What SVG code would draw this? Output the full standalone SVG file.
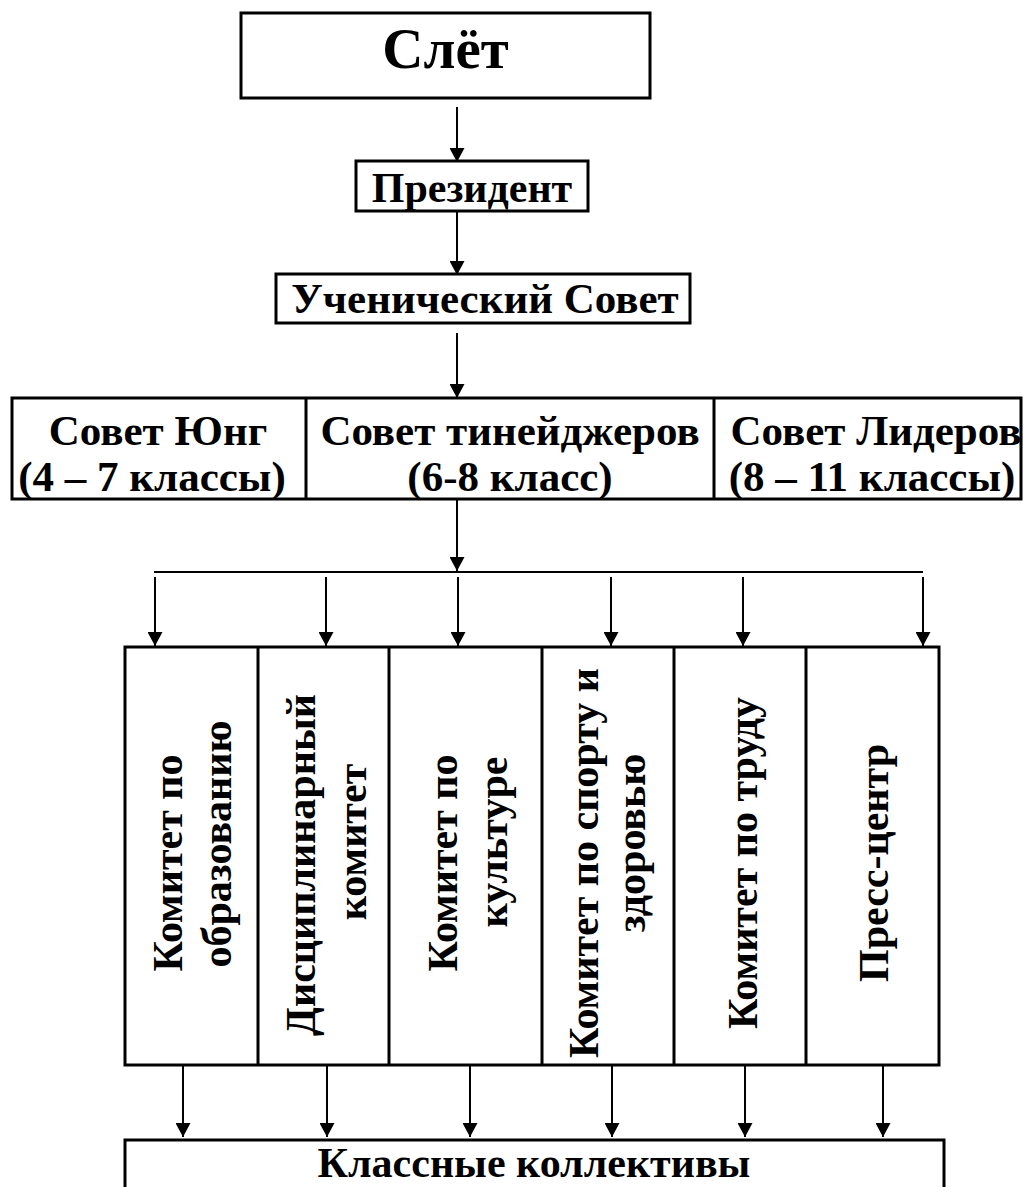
<svg xmlns="http://www.w3.org/2000/svg" width="1024" height="1187" viewBox="0 0 1024 1187">
<style>
.box{fill:#fff;stroke:#000;stroke-width:3}
.div{stroke:#000;stroke-width:3}
.t{font-family:"Liberation Serif","Times New Roman",serif;font-weight:bold;fill:#000;text-anchor:middle}
.c{stroke:#000;stroke-width:2;fill:none}
.a{stroke:#000;stroke-width:2;fill:none;marker-end:url(#ah)}
</style>
<defs>
<marker id="ah" viewBox="0 0 14 15" refX="14" refY="7.5" markerWidth="14" markerHeight="15" markerUnits="userSpaceOnUse" orient="auto">
<path d="M0,0 L14,7.5 L0,15 z" fill="#000"/>
</marker>
</defs>
<rect width="1024" height="1187" fill="#fff"/>
<g id="connectors">
<line class="a" x1="457" y1="107" x2="457" y2="162"/>
<line class="a" x1="457" y1="211" x2="457" y2="275"/>
<line class="a" x1="457" y1="333" x2="457" y2="398"/>
<line class="a" x1="457" y1="499" x2="457" y2="571"/>
<line class="c" x1="154" y1="572" x2="923" y2="572"/>
<line class="a" x1="155" y1="577" x2="155" y2="646"/>
<line class="a" x1="326" y1="577" x2="326" y2="646"/>
<line class="a" x1="458" y1="577" x2="458" y2="646"/>
<line class="a" x1="611" y1="577" x2="611" y2="646"/>
<line class="a" x1="743" y1="577" x2="743" y2="646"/>
<line class="a" x1="923" y1="577" x2="923" y2="646"/>
<line class="a" x1="183" y1="1066" x2="183" y2="1137"/>
<line class="a" x1="327" y1="1066" x2="327" y2="1137"/>
<line class="a" x1="470" y1="1066" x2="470" y2="1137"/>
<line class="a" x1="612" y1="1066" x2="612" y2="1137"/>
<line class="a" x1="745" y1="1066" x2="745" y2="1137"/>
<line class="a" x1="883" y1="1066" x2="883" y2="1137"/>
</g>
<g id="slet">
<rect class="box" x="241" y="13" width="409" height="85"/>
<text class="t" x="445.5" y="68" font-size="57">Слёт</text>
</g>
<g id="president">
<rect class="box" x="356" y="161" width="232" height="50"/>
<text class="t" x="472" y="202" font-size="42">Президент</text>
</g>
<g id="uchsovet">
<rect class="box" x="276" y="274" width="414" height="49"/>
<text class="t" x="485" y="313" font-size="43">Ученический Совет</text>
</g>
<g id="councils">
<rect class="box" x="12" y="398" width="1009" height="101"/>
<line class="div" x1="306" y1="398" x2="306" y2="499"/>
<line class="div" x1="714" y1="398" x2="714" y2="499"/>
<g id="sovet-yung">
<text class="t" x="158" y="445" font-size="43">Совет Юнг</text>
<text class="t" x="152" y="491" font-size="43">(4 – 7 классы)</text>
</g>
<g id="sovet-teen">
<text class="t" x="510" y="445" font-size="43">Совет тинейджеров</text>
<text class="t" x="510" y="491" font-size="43">(6-8 класс)</text>
</g>
<g id="sovet-lider">
<text class="t" x="876" y="445" font-size="43">Совет Лидеров</text>
<text class="t" x="872" y="491" font-size="43">(8 – 11 классы)</text>
</g>
</g>
<g id="committees">
<rect class="box" x="125" y="647" width="814" height="418"/>
<line class="div" x1="258" y1="647" x2="258" y2="1065"/>
<line class="div" x1="389" y1="647" x2="389" y2="1065"/>
<line class="div" x1="542" y1="647" x2="542" y2="1065"/>
<line class="div" x1="674" y1="647" x2="674" y2="1065"/>
<line class="div" x1="806" y1="647" x2="806" y2="1065"/>
<g id="kom-obr">
<text class="t" font-size="42" transform="translate(182,863) rotate(-90)">Комитет по</text>
<text class="t" font-size="42" transform="translate(231,844) rotate(-90)">образованию</text>
</g>
<g id="kom-disc">
<text class="t" font-size="42" transform="translate(315,865) rotate(-90)">Дисциплинарный</text>
<text class="t" font-size="42" transform="translate(366,842) rotate(-90)">комитет</text>
</g>
<g id="kom-kult">
<text class="t" font-size="42" transform="translate(457,863) rotate(-90)">Комитет по</text>
<text class="t" font-size="42" transform="translate(507,842) rotate(-90)">культуре</text>
</g>
<g id="kom-sport">
<text class="t" font-size="42" transform="translate(598,863) rotate(-90)">Комитет по спорту и</text>
<text class="t" font-size="42" transform="translate(645,843) rotate(-90)">здоровью</text>
</g>
<g id="kom-trud">
<text class="t" font-size="42" transform="translate(757,863) rotate(-90)">Комитет по труду</text>
</g>
<g id="press">
<text class="t" font-size="42" transform="translate(888,863) rotate(-90)">Пресс-центр</text>
</g>
</g>
<g id="klassy">
<rect class="box" x="125" y="1140" width="819" height="60"/>
<text class="t" x="534" y="1177" font-size="42">Классные коллективы</text>
</g>
</svg>
